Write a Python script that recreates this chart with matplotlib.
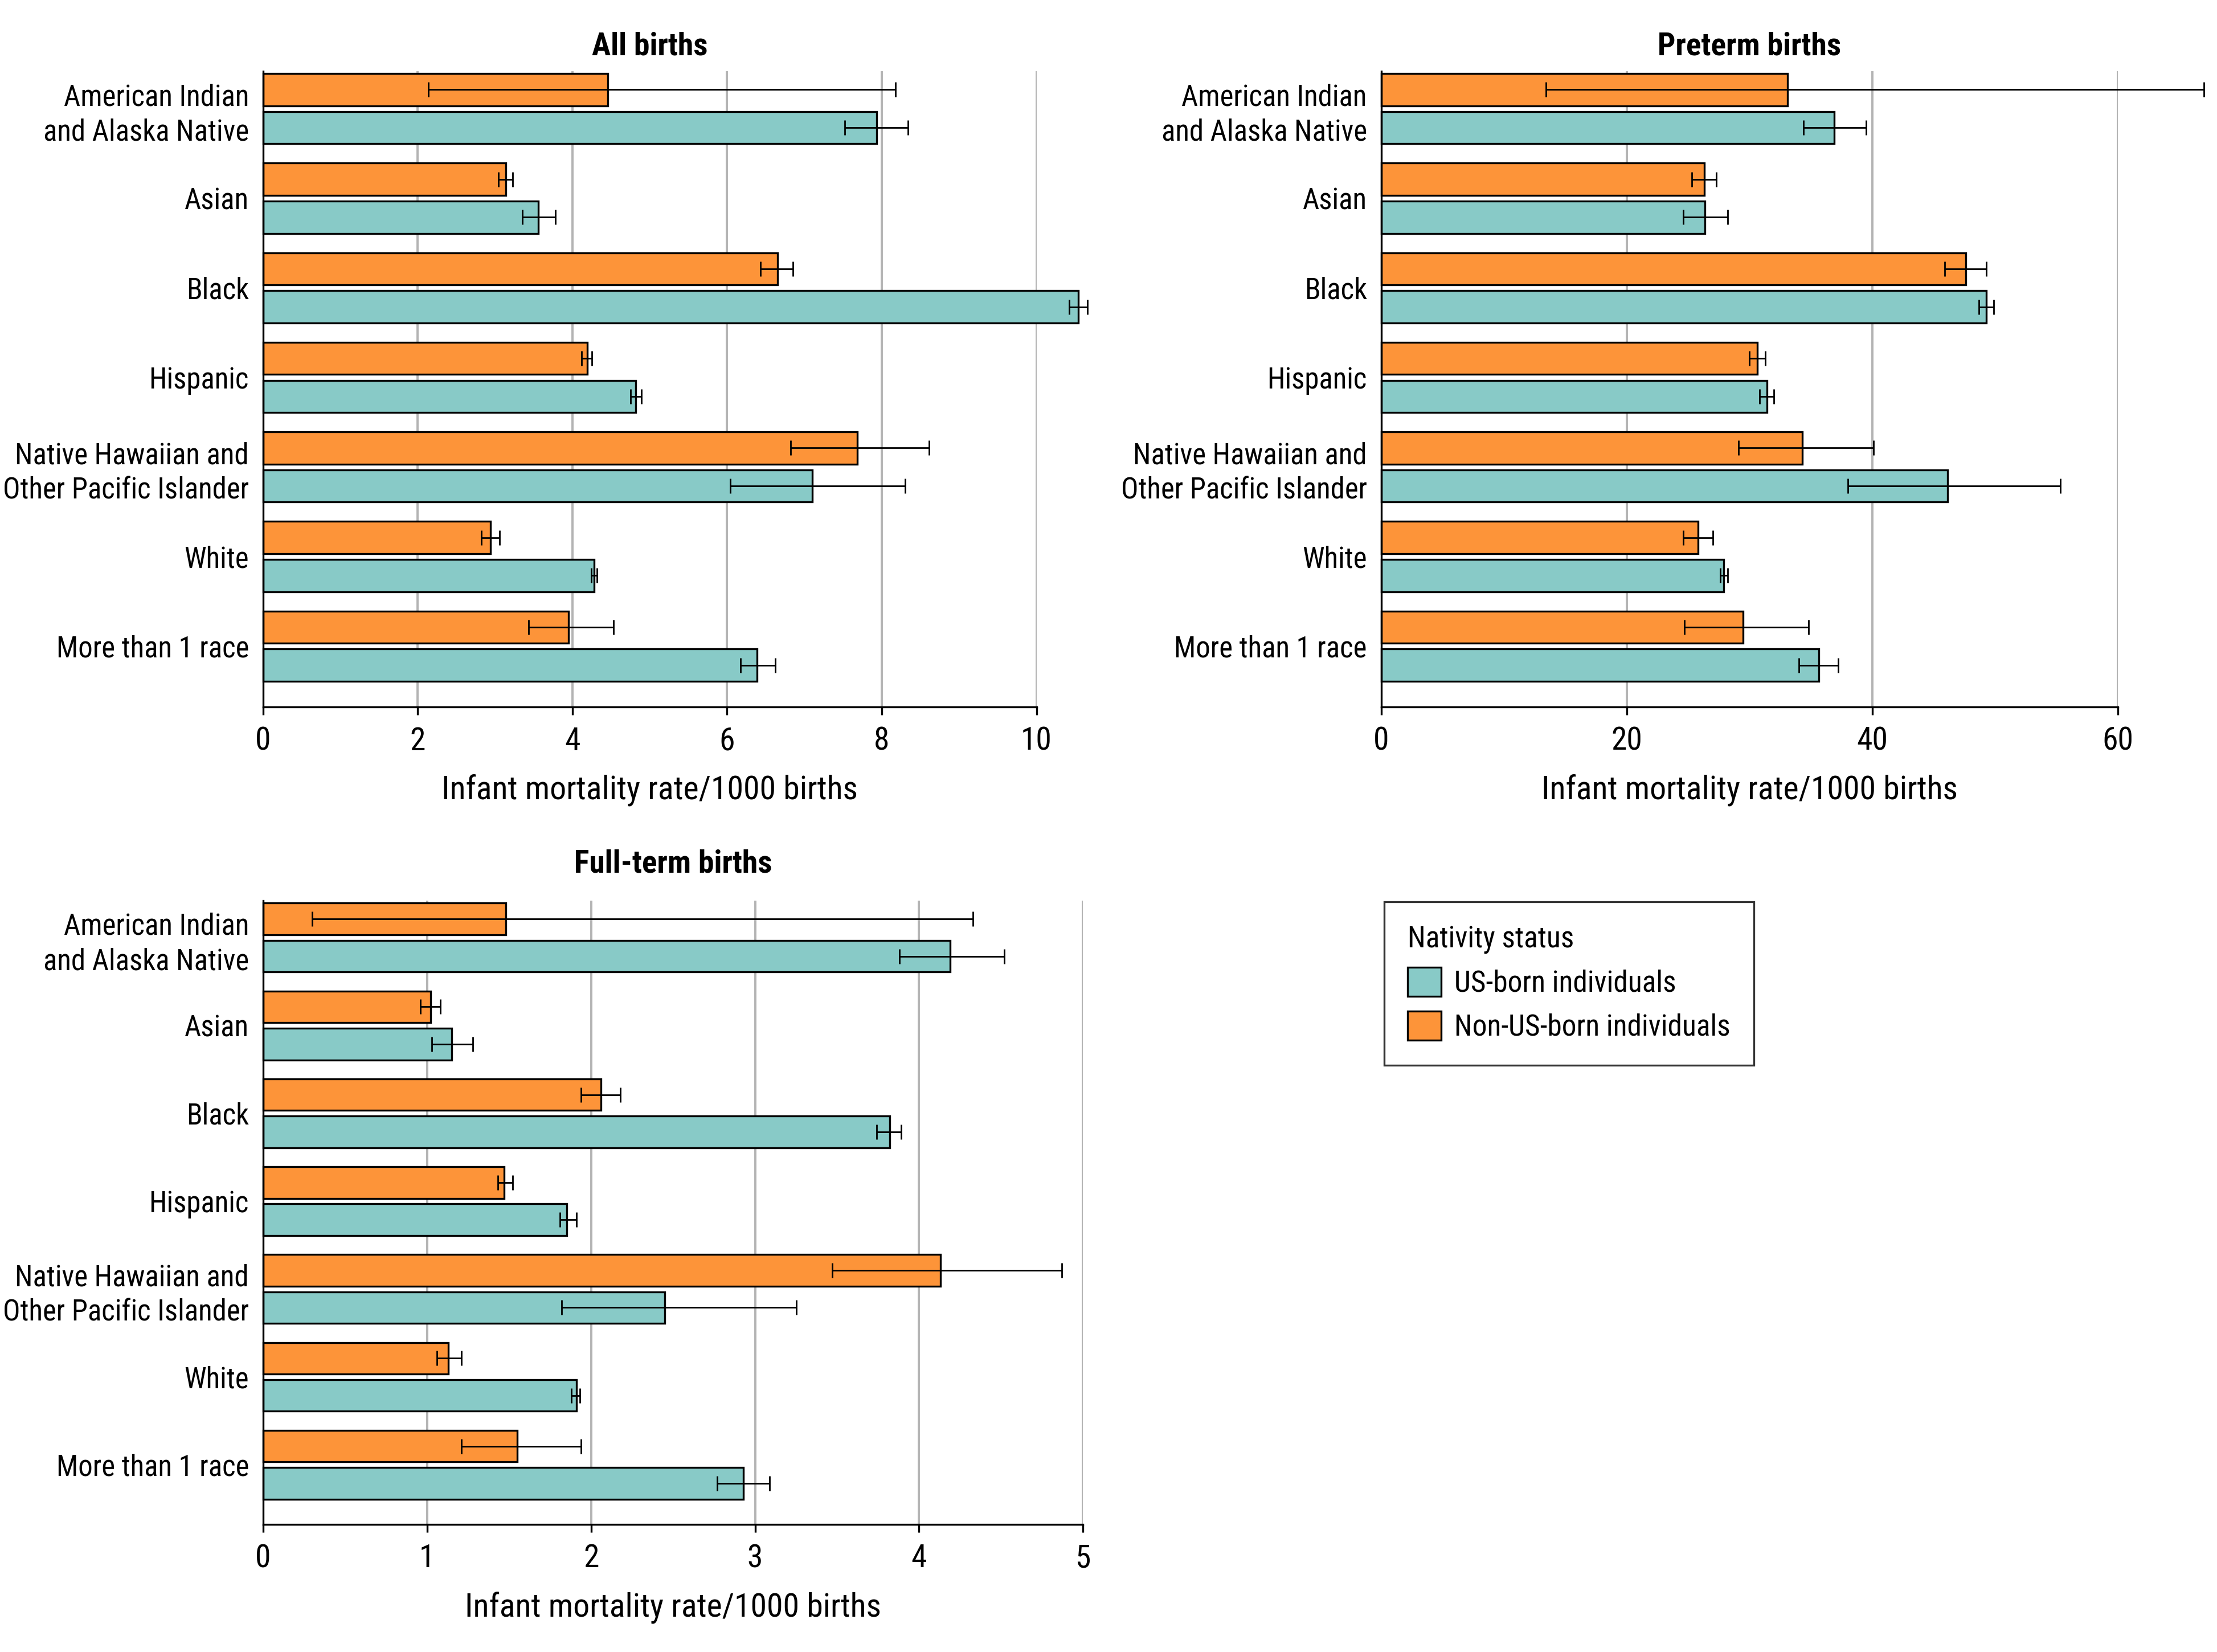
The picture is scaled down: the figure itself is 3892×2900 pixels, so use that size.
import matplotlib
matplotlib.use("Agg")
import matplotlib.pyplot as plt
from matplotlib import font_manager
from matplotlib.patches import Patch
import numpy as np

groups = ["American Indian\nand Alaska Native", "Asian", "Black", "Hispanic",
          "Native Hawaiian and\nOther Pacific Islander", "White", "More than 1 race"]

# All births
all_us = [7.93, 3.56, 10.54, 4.82, 7.10, 4.28, 6.39]
all_us_lo = [7.52, 3.35, 10.42, 4.75, 6.04, 4.24, 6.17]
all_us_hi = [8.34, 3.78, 10.66, 4.89, 8.30, 4.32, 6.62]
all_non = [4.46, 3.14, 6.65, 4.19, 7.68, 2.94, 3.95]
all_non_lo = [2.14, 3.04, 6.43, 4.12, 6.82, 2.82, 3.43]
all_non_hi = [8.18, 3.23, 6.85, 4.25, 8.61, 3.06, 4.53]

# Preterm births
pre_us = [36.9, 26.35, 49.3, 31.4, 46.15, 27.9, 35.65]
pre_us_lo = [34.4, 24.6, 48.7, 30.8, 38.0, 27.6, 34.0]
pre_us_hi = [39.5, 28.2, 49.9, 32.0, 55.3, 28.2, 37.2]
pre_non = [33.1, 26.3, 47.6, 30.65, 34.3, 25.8, 29.45]
pre_non_lo = [13.4, 25.3, 45.9, 29.97, 29.1, 24.6, 24.7]
pre_non_hi = [67.0, 27.3, 49.3, 31.3, 40.1, 27.0, 34.8]

# Full-term births
full_us = [4.19, 1.15, 3.82, 1.85, 2.45, 1.91, 2.93]
full_us_lo = [3.88, 1.03, 3.74, 1.81, 1.82, 1.88, 2.77]
full_us_hi = [4.52, 1.28, 3.89, 1.91, 3.25, 1.93, 3.09]
full_non = [1.48, 1.02, 2.06, 1.47, 4.13, 1.13, 1.55]
full_non_lo = [0.30, 0.96, 1.94, 1.43, 3.47, 1.06, 1.21]
full_non_hi = [4.33, 1.08, 2.18, 1.52, 4.87, 1.21, 1.94]

US_COLOR = "#88cac7"
NON_COLOR = "#fd9439"

avail = {f.name for f in font_manager.fontManager.ttflist}
font = next((f for f in ["Liberation Sans Narrow", "Roboto Condensed", "DejaVu Sans Condensed",
                         "Roboto", "DejaVu Sans"] if f in avail), "DejaVu Sans")
plt.rcParams["font.family"] = [font, "DejaVu Sans"]
if font in ("Roboto", "DejaVu Sans"):
    plt.rcParams["font.stretch"] = "condensed"

FS_CAT = 9.15
FS_TICK = 10
FS_LAB = 10.4
FS_TITLE = 10


def panel(ax, title, us, us_lo, us_hi, non, non_lo, non_hi, xmax, xticks, title_pad=5):
    y = np.arange(len(groups))
    off, h = 0.212, 0.36
    ax.barh(y - off, non, height=h, color=NON_COLOR, edgecolor="black", linewidth=0.6,
            zorder=2, clip_on=False)
    ax.barh(y + off, us, height=h, color=US_COLOR, edgecolor="black", linewidth=0.6,
            zorder=2, clip_on=False)
    non, us = np.array(non), np.array(us)
    ax.errorbar(non, y - off, xerr=[non - np.array(non_lo), np.array(non_hi) - non],
                fmt="none", ecolor="black", elinewidth=0.5, capsize=2.3, capthick=0.5,
                zorder=3, clip_on=False)
    ax.errorbar(us, y + off, xerr=[us - np.array(us_lo), np.array(us_hi) - us],
                fmt="none", ecolor="black", elinewidth=0.5, capsize=2.3, capthick=0.5,
                zorder=3, clip_on=False)
    ax.set_xlim(0, xmax)
    ax.set_ylim(6.68, -0.42)
    ax.set_xticks(xticks)
    ax.set_yticks(y)
    ax.set_yticklabels(groups, fontsize=FS_CAT, linespacing=1.3)
    ax.tick_params(axis="y", length=0, pad=4.5)
    ax.tick_params(axis="x", labelsize=FS_TICK, length=2.5, width=0.6, pad=3.5)
    ax.xaxis.grid(True, color="#b3b3b3", linewidth=0.7, zorder=0)
    ax.set_axisbelow(True)
    for s in ("top", "right"):
        ax.spines[s].set_visible(False)
    for s in ("left", "bottom"):
        ax.spines[s].set_linewidth(0.6)
    ax.set_xlabel("Infant mortality rate/1000 births", fontsize=FS_LAB, labelpad=5.5)
    ax.set_title(title, fontsize=FS_TITLE, fontweight="bold", pad=title_pad)


fig = plt.figure(figsize=(9.73, 7.25), dpi=400)
ax1 = fig.add_axes([0.1187, 0.572, 0.3488, 0.385])
ax2 = fig.add_axes([0.623, 0.572, 0.3323, 0.385])
ax3 = fig.add_axes([0.1187, 0.0772, 0.3698, 0.3776])

panel(ax1, "All births", all_us, all_us_lo, all_us_hi, all_non, all_non_lo, all_non_hi,
      10, [0, 2, 4, 6, 8, 10])
panel(ax2, "Preterm births", pre_us, pre_us_lo, pre_us_hi, pre_non, pre_non_lo, pre_non_hi,
      60, [0, 20, 40, 60])
panel(ax3, "Full-term births", full_us, full_us_lo, full_us_hi, full_non, full_non_lo,
      full_non_hi, 5, [0, 1, 2, 3, 4, 5], title_pad=9)

handles = [Patch(facecolor=US_COLOR, edgecolor="black", linewidth=0.6, label="US-born individuals"),
           Patch(facecolor=NON_COLOR, edgecolor="black", linewidth=0.6, label="Non-US-born individuals")]
leg = fig.legend(handles=handles, title="Nativity status", loc="upper left",
                 bbox_to_anchor=(0.6244, 0.4541), borderaxespad=0, fontsize=9.25,
                 title_fontsize=9.25, alignment="left", fancybox=False, frameon=True,
                 edgecolor="black", handlelength=1.15, handleheight=1.15, handletextpad=0.45,
                 borderpad=0.8, labelspacing=0.45)
leg.get_frame().set_linewidth(0.6)

fig.savefig("out.png", dpi=400)
